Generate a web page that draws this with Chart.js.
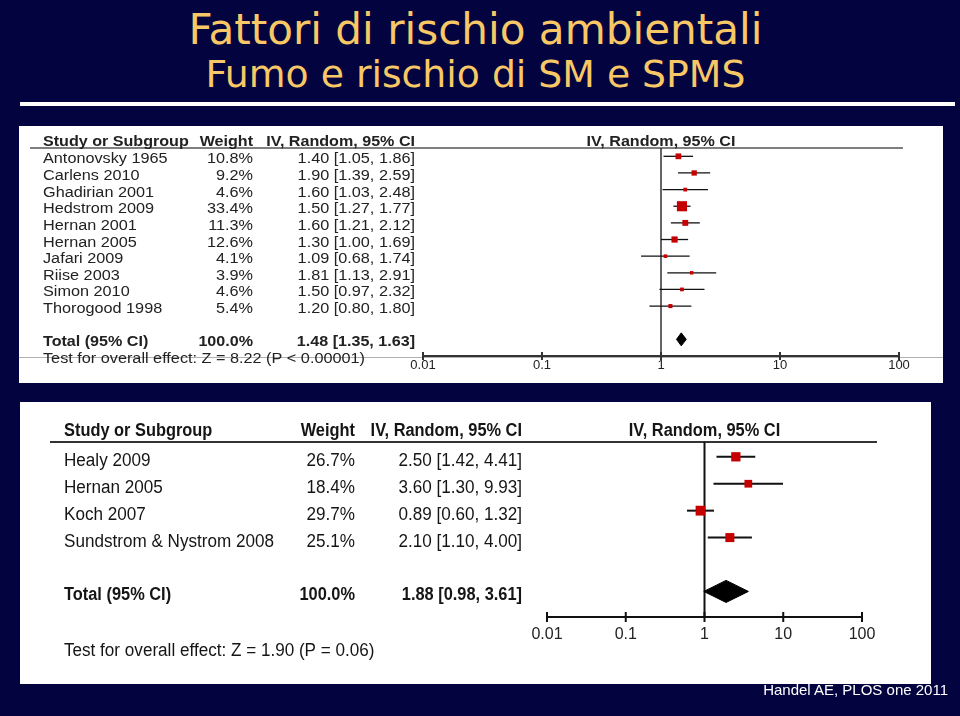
<!DOCTYPE html>
<html>
<head>
<meta charset="utf-8">
<script src="https://cdn.jsdelivr.net/npm/chart.js@4.4.1/dist/chart.umd.min.js"></script>
<style>
  html, body { margin: 0; padding: 0; }
  body { width: 960px; height: 716px; background: #03033f; position: relative; overflow: hidden; }
  .title { position: absolute; left: 0; width: 950px; text-align: center; color: #f8c867;
           font-family: 'DejaVu Sans Condensed', 'DejaVu Sans', sans-serif; font-stretch: condensed; line-height: 1; white-space: nowrap; }
  .title span { display: inline-block; transform-origin: center; }
  #t1 { top: 9px; font-size: 42px; }
  #t2 { top: 55px; font-size: 38px; }
  #rule { position: absolute; left: 20px; top: 102px; width: 935px; height: 4px; background: #ffffff; }
  canvas { position: absolute; background: #ffffff; }
  #forestA { left: 19px; top: 126px; }
  #forestB { left: 20px; top: 402px; }
  #source { position: absolute; right: 12px; top: 682px; font: 15px 'Liberation Sans', Arial, sans-serif; line-height: 1; color: #ffffff; }
</style>
</head>
<body>
<div class="title" id="t1"><span>Fattori di rischio ambientali</span></div>
<div class="title" id="t2"><span>Fumo e rischio di SM e SPMS</span></div>
<div id="rule"></div>
<canvas id="forestA" width="924" height="257"></canvas>
<canvas id="forestB" width="911" height="282"></canvas>
<div id="source">Handel AE, PLOS one 2011</div>

<script>
// ---- data: smoking and risk of MS (top) ----
const studiesA = ['Antonovsky 1965', 'Carlens 2010', 'Ghadirian 2001', 'Hedstrom 2009', 'Hernan 2001',
                  'Hernan 2005', 'Jafari 2009', 'Riise 2003', 'Simon 2010', 'Thorogood 1998'];
const weightsA = [10.8, 9.2, 4.6, 33.4, 11.3, 12.6, 4.1, 3.9, 4.6, 5.4];
const estA = [1.40, 1.90, 1.60, 1.50, 1.60, 1.30, 1.09, 1.81, 1.50, 1.20];
const lowA = [1.05, 1.39, 1.03, 1.27, 1.21, 1.00, 0.68, 1.13, 0.97, 0.80];
const highA = [1.86, 2.59, 2.48, 1.77, 2.12, 1.69, 1.74, 2.91, 2.32, 1.80];
const totalA = [1.48, 1.35, 1.63];
const testA = 'Test for overall effect: Z = 8.22 (P < 0.00001)';

// ---- data: smoking and risk of SPMS (bottom) ----
const studiesB = ['Healy 2009', 'Hernan 2005', 'Koch 2007', 'Sundstrom & Nystrom 2008'];
const weightsB = [26.7, 18.4, 29.7, 25.1];
const estB = [2.50, 3.60, 0.89, 2.10];
const lowB = [1.42, 1.30, 0.60, 1.10];
const highB = [4.41, 9.93, 1.32, 4.00];
const totalB = [1.88, 0.98, 3.61];
const testB = 'Test for overall effect: Z = 1.90 (P = 0.06)';

const axisTicks = [0.01, 0.1, 1, 10, 100];
const headers = ['Study or Subgroup', 'Weight', 'IV, Random, 95% CI'];

const FONT = "'Liberation Sans', Arial, sans-serif";

// stretch title lines to the width they have on the slide
function fitWidth(id, target) {
  const span = document.querySelector('#' + id + ' span');
  const w = span.getBoundingClientRect().width;
  span.style.transform = 'scaleX(' + (target / w) + ')';
}
fitWidth('t1', 574);
fitWidth('t2', 540);

function putText(ctx, txt, px, py, align, sx) {
  const w = ctx.measureText(txt).width * sx;
  const left = align === 'right' ? px - w : align === 'center' ? px - w / 2 : px;
  ctx.save();
  ctx.translate(left, py);
  ctx.scale(sx, 1);
  ctx.textAlign = 'left';
  ctx.textBaseline = 'alphabetic';
  ctx.fillText(txt, 0, 0);
  ctx.restore();
}

const forestTable = {
  id: 'forestTable',
  beforeDatasetsDraw(chart, args, o) {
    const { ctx, chartArea, scales: { x } } = chart;
    ctx.save();
    ctx.lineCap = 'butt';
    if (o.fullRule) {
      ctx.strokeStyle = '#b0b0b0';
      ctx.lineWidth = 1;
      ctx.beginPath();
      ctx.moveTo(0, chartArea.bottom + 1.5);
      ctx.lineTo(chart.width, chartArea.bottom + 1.5);
      ctx.stroke();
    }
    // header rule
    ctx.strokeStyle = o.ruleColor;
    ctx.lineWidth = o.ruleWidth;
    ctx.beginPath();
    ctx.moveTo(o.ruleFrom, chartArea.top);
    ctx.lineTo(o.ruleTo, chartArea.top);
    ctx.stroke();
    // tick marks crossing the axis
    ctx.strokeStyle = o.axisColor;
    ctx.lineWidth = o.tickWidth;
    x.ticks.forEach(t => {
      const px = x.getPixelForValue(t.value);
      ctx.beginPath();
      ctx.moveTo(px, chartArea.bottom - o.tickUp);
      ctx.lineTo(px, chartArea.bottom + o.tickDown);
      ctx.stroke();
    });
    ctx.restore();
  },
  afterDraw(chart, args, o) {
    const { ctx, scales: { x, y } } = chart;
    const d = o.data;
    const rowY = (r) => y.getPixelForValue(r) + o.baseOff;
    const fmt = (e, l, h) => `${e.toFixed(2)} [${l.toFixed(2)}, ${h.toFixed(2)}]`;
    ctx.save();
    ctx.fillStyle = o.textColor;

    ctx.font = `bold ${o.size}px ${FONT}`;
    const hy = rowY(o.headerRow);
    putText(ctx, headers[0], o.colName, hy, 'left', o.sxBold);
    putText(ctx, headers[1], o.colWeight, hy, 'right', o.sxBold);
    putText(ctx, headers[2], o.colCI, hy, 'right', o.sxBold);
    putText(ctx, headers[2], x.getPixelForValue(1), hy, 'center', o.sxBold);

    ctx.font = `${o.size}px ${FONT}`;
    d.names.forEach((name, i) => {
      const py = rowY(i);
      putText(ctx, name, o.colName, py, 'left', o.sx);
      putText(ctx, d.weights[i].toFixed(1) + '%', o.colWeight, py, 'right', o.sx);
      putText(ctx, fmt(d.est[i], d.low[i], d.high[i]), o.colCI, py, 'right', o.sx);
    });

    ctx.font = `bold ${o.size}px ${FONT}`;
    const ty = rowY(o.totalRow);
    putText(ctx, 'Total (95% CI)', o.colName, ty, 'left', o.sxBold);
    putText(ctx, '100.0%', o.colWeight, ty, 'right', o.sxBold);
    putText(ctx, fmt(d.total[0], d.total[1], d.total[2]), o.colCI, ty, 'right', o.sxBold);

    ctx.font = `${o.size}px ${FONT}`;
    putText(ctx, d.test, o.colName, rowY(o.testRow), 'left', o.sx);
    ctx.restore();
  }
};

function buildForest(id, d, st) {
  const T = st.totalRow;
  const datasets = [
    {
      type: 'scatter',
      data: d.est.map((v, i) => ({ x: v, y: i })),
      pointStyle: 'rect',
      pointRadius: d.weights.map(w => st.boxK * Math.sqrt(w) / Math.SQRT2),
      backgroundColor: '#c60000',
      borderWidth: 0,
      order: 0
    },
    {
      type: 'line',
      data: [
        { x: d.total[1], y: T }, { x: d.total[0], y: T - st.diamondH },
        { x: d.total[2], y: T }, { x: d.total[0], y: T + st.diamondH },
        { x: d.total[1], y: T }
      ],
      fill: 'shape',
      backgroundColor: '#000000',
      borderColor: '#000000',
      borderWidth: 1,
      pointRadius: 0,
      tension: 0,
      order: 1
    },
    ...d.low.map((lo, i) => ({
      type: 'line',
      data: [{ x: lo, y: i }, { x: d.high[i], y: i }],
      borderColor: '#111111',
      borderWidth: st.ciWidth,
      pointRadius: 0,
      order: 2
    })),
    {
      type: 'line',
      data: [{ x: 1, y: st.yMin }, { x: 1, y: st.yMax }],
      borderColor: st.axisColor,
      borderWidth: st.refWidth,
      pointRadius: 0,
      order: 3
    }
  ];

  return new Chart(document.getElementById(id), {
    type: 'scatter',
    data: { datasets },
    plugins: [forestTable],
    options: {
      responsive: false,
      animation: false,
      devicePixelRatio: 1,
      layout: { padding: { left: st.padLeft, right: st.padRight, top: st.padTop, bottom: 0 } },
      plugins: {
        legend: { display: false },
        tooltip: { enabled: false },
        forestTable: Object.assign({ data: d }, st)
      },
      scales: {
        x: {
          type: 'logarithmic',
          min: 0.01,
          max: 100,
          afterBuildTicks: (s) => { s.ticks = axisTicks.map(v => ({ value: v })); },
          afterFit: (s) => { s.height = st.axisH; },
          grid: { drawOnChartArea: false, drawTicks: false },
          border: { color: st.axisColor, width: st.axisWidth },
          ticks: {
            callback: (v) => String(v),
            autoSkip: false,
            maxRotation: 0,
            padding: st.labelPad,
            color: '#222222',
            font: { family: FONT, size: st.tickSize }
          }
        },
        y: { type: 'linear', reverse: true, min: st.yMin, max: st.yMax, display: false }
      }
    }
  });
}

buildForest('forestA',
  { names: studiesA, weights: weightsA, est: estA, low: lowA, high: highA, total: totalA, test: testA },
  {
    padLeft: 404, padRight: 44, padTop: 22, axisH: 27,
    yMin: -0.5, yMax: 12, headerRow: -1.04, totalRow: 11, testRow: 12.02,
    baseOff: 7, size: 14, sx: 1.16, sxBold: 1.15, textColor: '#222222',
    colName: 24, colWeight: 234, colCI: 396,
    ruleFrom: 11, ruleTo: 884, ruleColor: '#555555', ruleWidth: 1.5, fullRule: true,
    axisColor: '#333333', axisWidth: 2, tickWidth: 2, tickUp: 4, tickDown: 4,
    refWidth: 1.5, ciWidth: 1.3, boxK: 1.75, diamondH: 0.39,
    tickSize: 13, labelPad: 2
  });

buildForest('forestB',
  { names: studiesB, weights: weightsB, est: estB, low: lowB, high: highB, total: totalB, test: testB },
  {
    padLeft: 527, padRight: 69, padTop: 40, axisH: 67,
    yMin: -0.55, yMax: 5.95, headerRow: -1.1, totalRow: 5, testRow: 7.06,
    baseOff: 9, size: 18, sx: 0.95, sxBold: 0.91, textColor: '#151515',
    colName: 44, colWeight: 335, colCI: 502,
    ruleFrom: 30, ruleTo: 857, ruleColor: '#333333', ruleWidth: 2, fullRule: false,
    axisColor: '#111111', axisWidth: 2, tickWidth: 2, tickUp: 5, tickDown: 5,
    refWidth: 2, ciWidth: 2, boxK: 1.8, diamondH: 0.41,
    tickSize: 16, labelPad: 8
  });
</script>
</body>
</html>
